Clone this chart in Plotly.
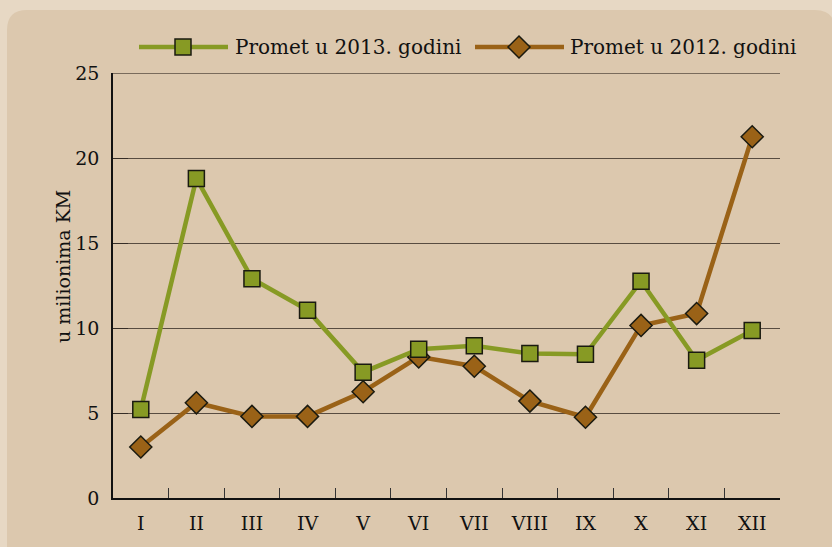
import plotly.graph_objects as go

months = ["I", "II", "III", "IV", "V", "VI", "VII", "VIII", "IX", "X", "XI", "XII"]
promet_2013 = [5.2, 18.8, 12.9, 11.05, 7.4, 8.75, 8.95, 8.5, 8.45, 12.75, 8.1, 9.85]
promet_2012 = [3.0, 5.6, 4.8, 4.8, 6.25, 8.3, 7.75, 5.7, 4.75, 10.15, 10.85, 21.25]
name_2013 = "Promet u 2013. godini"
name_2012 = "Promet u 2012. godini"
y_title = "u milionima KM"
y_ticks = [0, 5, 10, 15, 20, 25]

GREEN = "#879a24"
BROWN = "#9a6217"
EDGE = "#1a1a10"
GRID = "rgba(55,45,38,0.8)"
FONT = "DejaVu Serif"

fig = go.Figure()
fig.add_trace(go.Scatter(
    x=months, y=promet_2012, name=name_2012, mode="lines+markers",
    line=dict(color=BROWN, width=4.5),
    marker=dict(symbol="diamond", size=17, color=BROWN, line=dict(color=EDGE, width=1.5)),
))
fig.add_trace(go.Scatter(
    x=months, y=promet_2013, name=name_2013, mode="lines+markers",
    line=dict(color=GREEN, width=4.5),
    marker=dict(symbol="square", size=16, color=GREEN, line=dict(color=EDGE, width=1.5)),
))

# plot area spans x 113..780 px, y 73..498 px of the figure
W, H = 667.0, 425.0
def px(x):
    return (x - 113) / W
def py(y):
    return (498 - y) / H

# rounded inner panel
r = 20
path = (f"M{px(7)},{py(560)} L{px(7)},{py(10 + r)} Q{px(7)},{py(10)} {px(7 + r)},{py(10)} "
        f"L{px(835 - r)},{py(10)} Q{px(835)},{py(10)} {px(835)},{py(10 + r)} L{px(835)},{py(560)} Z")
fig.add_shape(type="path", path=path, xref="paper", yref="paper",
              fillcolor="#dcc8ae", line=dict(width=0), layer="below")

# top gridline (at the axis maximum)
fig.add_shape(type="line", xref="paper", yref="y", x0=0, x1=1, y0=y_ticks[-1], y1=y_ticks[-1],
              line=dict(color=GRID, width=1.3), layer="below")

# legend drawn with long line samples
LY = 47
legend_items = [
    (name_2013, GREEN, "square", 139, 228, 183, 233),
    (name_2012, BROWN, "diamond", 475, 564, 519, 568),
]
for name, col, sym, lx0, lx1, mx, tx in legend_items:
    fig.add_shape(type="line", xref="paper", yref="paper", x0=px(lx0), x1=px(lx1),
                  y0=py(LY), y1=py(LY), line=dict(color=col, width=4.5))
    if sym == "square":
        fig.add_shape(type="rect", xref="paper", yref="paper", xsizemode="pixel", ysizemode="pixel",
                      xanchor=px(mx), yanchor=py(LY), x0=-8, x1=8, y0=-8, y1=8,
                      fillcolor=col, line=dict(color=EDGE, width=1.5))
    else:
        fig.add_shape(type="path", xref="paper", yref="paper", xsizemode="pixel", ysizemode="pixel",
                      xanchor=px(mx), yanchor=py(LY), path="M0,-11 L11,0 L0,11 L-11,0 Z",
                      fillcolor=col, line=dict(color=EDGE, width=1.5))
    fig.add_annotation(text=name, xref="paper", yref="paper", x=px(tx), y=py(LY),
                       xanchor="left", yanchor="middle", showarrow=False,
                       font=dict(family=FONT, size=20, color="#111"))

fig.add_annotation(text=y_title, xref="paper", yref="paper", x=px(50), y=py(267),
                   textangle=-90, showarrow=False, font=dict(family=FONT, size=19, color="#111"))

fig.update_layout(
    width=832, height=547,
    margin=dict(l=113, r=52, t=73, b=49),
    paper_bgcolor="#e7d8c4",
    plot_bgcolor="rgba(0,0,0,0)",
    font=dict(family=FONT, size=19, color="#111"),
    showlegend=False,
    xaxis=dict(type="category", tickson="boundaries", ticks="inside", ticklen=10,
               tickcolor="#333", showline=True, linecolor="#111", linewidth=1.5,
               showgrid=False, range=[-0.5, 11.5], tickfont=dict(size=19),
               ticklabelstandoff=7),
    yaxis=dict(range=[0, 25], tickvals=y_ticks, showgrid=True, gridcolor=GRID,
               gridwidth=1.3, showline=True, linecolor="#111", linewidth=1.5,
               ticks="inside", ticklen=15, tickcolor="rgba(30,25,20,0.6)", tickwidth=1.3,
               zeroline=False, tickfont=dict(size=19), ticklabelstandoff=8),
)

fig.write_html("out.html", post_script="document.body.style.margin='0px';",
               config={"displayModeBar": False})
